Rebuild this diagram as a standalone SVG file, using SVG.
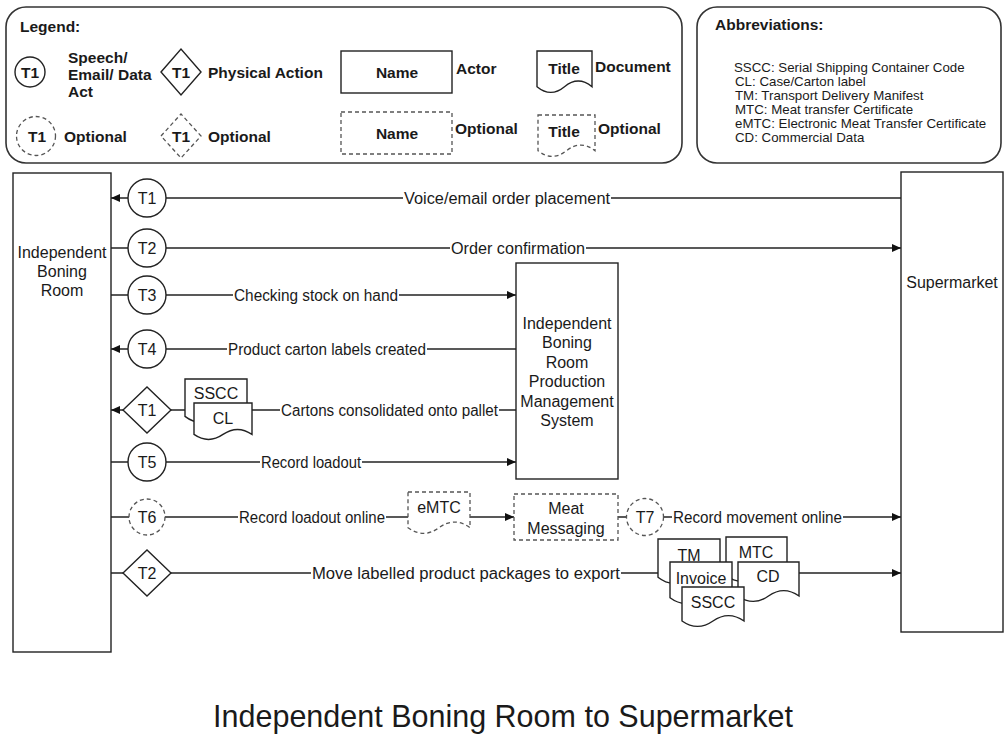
<svg xmlns="http://www.w3.org/2000/svg" width="1006" height="737" viewBox="0 0 1006 737">
  <defs>
    <style>
      text { font-family: "Liberation Sans", Arial, sans-serif; fill: #1a1a1a; }
      .b { font-weight: bold; font-size: 15.5px; }
      .lbl { font-size: 16px; text-anchor: middle; dominant-baseline: central; }
      .nt { font-size: 16px; text-anchor: middle; }
      .mid { text-anchor: middle; }
      .ab { font-size: 13.3px; }
      .shape { fill: #fff; stroke: #222; stroke-width: 1.4; }
      .dash { fill: #fff; stroke: #555; stroke-width: 1.3; stroke-dasharray: 4 3; }
      .panel { fill: #fff; stroke: #333; stroke-width: 1.6; }
      .edge { fill: none; stroke: #222; stroke-width: 1.3; }
      .bg { fill: #fff; }
    </style>
    <marker id="arrow" markerUnits="userSpaceOnUse" markerWidth="9" markerHeight="8" refX="9" refY="4" orient="auto">
      <path d="M0,0 L9,4 L0,8 Z" fill="#111"/>
    </marker>
  </defs>

  <rect width="1006" height="737" fill="#fff"/>

  <!-- Legend panel -->
  <g id="legend">
    <rect class="panel" x="6" y="7" width="676" height="156" rx="20" ry="20"/>
    <text class="b" x="20" y="32">Legend:</text>
    <circle class="shape" cx="30" cy="72" r="15"/>
    <text class="b mid" x="30" y="77.5">T1</text>
    <text class="b" x="68" y="63">Speech/</text>
    <text class="b" x="68" y="80">Email/ Data</text>
    <text class="b" x="68" y="97">Act</text>
    <polygon class="shape" points="161,72 181,49 201,72 181,95"/>
    <text class="b mid" x="181" y="77.5">T1</text>
    <text class="b" x="208" y="78">Physical Action</text>
    <rect class="shape" x="341" y="51" width="111" height="42"/>
    <text class="b mid" x="397" y="78">Name</text>
    <text class="b" x="456" y="74">Actor</text>
    <path class="shape" d="M537,51 H592 V86.7 Q578.25,75.36 564.5,86.7 Q550.75,98.04 537,86.7 Z"/>
    <text class="b mid" x="564" y="74">Title</text>
    <text class="b" x="595" y="72">Document</text>
    <circle class="dash" cx="36" cy="136" r="19.5"/>
    <text class="b mid" x="37" y="141.5">T1</text>
    <text class="b" x="64" y="141.5">Optional</text>
    <polygon class="dash" points="161,136 181,114 201,136 181,158"/>
    <text class="b mid" x="181" y="141.5">T1</text>
    <text class="b" x="208" y="141.5">Optional</text>
    <rect class="dash" x="341" y="112" width="111" height="42"/>
    <text class="b mid" x="397" y="139">Name</text>
    <text class="b" x="455" y="134">Optional</text>
    <path class="dash" d="M538,115 H595 V150.7 Q580.75,139.36 566.5,150.7 Q552.25,162.04 538,150.7 Z"/>
    <text class="b mid" x="564" y="137">Title</text>
    <text class="b" x="598" y="134">Optional</text>
  </g>

  <!-- Abbreviations panel -->
  <g id="abbreviations">
    <rect class="panel" x="697" y="7" width="304" height="156" rx="20" ry="20"/>
    <text class="b" x="715" y="30">Abbreviations:</text>
    <text class="ab" x="734" y="71.5">SSCC: Serial Shipping Container Code</text>
    <text class="ab" x="735" y="85.5">CL: Case/Carton label</text>
    <text class="ab" x="735" y="99.5">TM: Transport Delivery Manifest</text>
    <text class="ab" x="735" y="114">MTC: Meat transfer Certificate</text>
    <text class="ab" x="735" y="128">eMTC: Electronic Meat Transfer Certificate</text>
    <text class="ab" x="735" y="141.5">CD: Commercial Data</text>
  </g>

  <!-- Connectors -->
  <g id="connectors">
    <line class="edge" x1="901" y1="198" x2="111" y2="198" marker-end="url(#arrow)"/>
    <line class="edge" x1="111" y1="248" x2="901" y2="248" marker-end="url(#arrow)"/>
    <line class="edge" x1="111" y1="295" x2="516" y2="295" marker-end="url(#arrow)"/>
    <line class="edge" x1="516" y1="349" x2="111" y2="349" marker-end="url(#arrow)"/>
    <line class="edge" x1="516" y1="410" x2="111" y2="410" marker-end="url(#arrow)"/>
    <line class="edge" x1="111" y1="462" x2="516" y2="462" marker-end="url(#arrow)"/>
    <line class="edge" x1="111" y1="517" x2="408" y2="517"/>
    <line class="edge" x1="470" y1="517" x2="514" y2="517" marker-end="url(#arrow)"/>
    <line class="edge" x1="618" y1="517" x2="901" y2="517" marker-end="url(#arrow)"/>
    <line class="edge" x1="111" y1="573" x2="901" y2="573" marker-end="url(#arrow)"/>

    <rect class="bg" x="403" y="188" width="208" height="20"/>
    <text class="lbl" x="507" y="198" textLength="206" lengthAdjust="spacingAndGlyphs">Voice/email order placement</text>
    <rect class="bg" x="450" y="238" width="136" height="20"/>
    <text class="lbl" x="518" y="248" textLength="134" lengthAdjust="spacingAndGlyphs">Order confirmation</text>
    <rect class="bg" x="233" y="285" width="166" height="20"/>
    <text class="lbl" x="316" y="295" textLength="164" lengthAdjust="spacingAndGlyphs">Checking stock on hand</text>
    <rect class="bg" x="227" y="339" width="200" height="20"/>
    <text class="lbl" x="327" y="349" textLength="198" lengthAdjust="spacingAndGlyphs">Product carton labels created</text>
    <rect class="bg" x="280" y="400" width="219" height="20"/>
    <text class="lbl" x="389.5" y="410" textLength="217" lengthAdjust="spacingAndGlyphs">Cartons consolidated onto pallet</text>
    <rect class="bg" x="260" y="452" width="102" height="20"/>
    <text class="lbl" x="311" y="462" textLength="100" lengthAdjust="spacingAndGlyphs">Record loadout</text>
    <rect class="bg" x="238" y="507" width="148" height="20"/>
    <text class="lbl" x="312" y="517" textLength="146" lengthAdjust="spacingAndGlyphs">Record loadout online</text>
    <rect class="bg" x="672" y="507" width="171" height="20"/>
    <text class="lbl" x="757.5" y="517" textLength="169" lengthAdjust="spacingAndGlyphs">Record movement online</text>
    <rect class="bg" x="311" y="563" width="310" height="20"/>
    <text class="lbl" x="466" y="573" textLength="308" lengthAdjust="spacingAndGlyphs">Move labelled product packages to export</text>
  </g>

  <!-- Actors -->
  <g id="independent-boning-room">
    <rect class="shape" x="13" y="173" width="98" height="479"/>
    <text class="nt" x="62" y="257.5">Independent</text>
    <text class="nt" x="62" y="276.5">Boning</text>
    <text class="nt" x="62" y="295.5">Room</text>
  </g>
  <g id="supermarket">
    <rect class="shape" x="901" y="172" width="102" height="460"/>
    <text class="nt" x="952" y="288">Supermarket</text>
  </g>
  <g id="production-management-system">
    <rect class="shape" x="516" y="263" width="102" height="216"/>
    <text class="nt" x="567" y="328.5">Independent</text>
    <text class="nt" x="567" y="348">Boning</text>
    <text class="nt" x="567" y="367.5">Room</text>
    <text class="nt" x="567" y="387">Production</text>
    <text class="nt" x="567" y="406.5">Management</text>
    <text class="nt" x="567" y="426">System</text>
  </g>
  <g id="meat-messaging">
    <rect class="dash" x="514" y="494" width="104" height="46"/>
    <text class="nt" x="566" y="513.5">Meat</text>
    <text class="nt" x="566" y="533.5">Messaging</text>
  </g>

  <!-- Transactions -->
  <g id="t1-order">
    <circle class="shape" cx="147" cy="198" r="19"/>
    <text class="nt" x="147" y="203.5">T1</text>
  </g>
  <g id="t2-confirm">
    <circle class="shape" cx="147" cy="248" r="19"/>
    <text class="nt" x="147" y="253.5">T2</text>
  </g>
  <g id="t3-stock">
    <circle class="shape" cx="147" cy="295" r="19"/>
    <text class="nt" x="147" y="300.5">T3</text>
  </g>
  <g id="t4-labels">
    <circle class="shape" cx="147" cy="349" r="19"/>
    <text class="nt" x="147" y="354.5">T4</text>
  </g>
  <g id="t1-pallet">
    <polygon class="shape" points="123,410 147,387 171,410 147,433"/>
    <text class="nt" x="147" y="415.5">T1</text>
  </g>
  <g id="doc-sscc-cl">
    <path class="shape" d="M185,379 H247 V416.4 Q231.5,404.5 216,416.4 Q200.5,428.3 185,416.4 Z"/>
    <text class="nt" x="216" y="399">SSCC</text>
    <path class="shape" d="M194,403 H252 V434.45 Q237.5,424.46 223,434.45 Q208.5,444.44 194,434.45 Z"/>
    <text class="nt" x="223" y="424">CL</text>
  </g>
  <g id="t5-loadout">
    <circle class="shape" cx="147" cy="462" r="19"/>
    <text class="nt" x="147" y="467.5">T5</text>
  </g>
  <g id="t6-online">
    <circle class="dash" cx="147" cy="517" r="18"/>
    <text class="nt" x="147" y="522.5">T6</text>
  </g>
  <g id="doc-emtc">
    <path class="dash" d="M408,492 H470 V527.7 Q454.5,516.4 439,527.7 Q423.5,539 408,527.7 Z"/>
    <text class="nt" x="439" y="513">eMTC</text>
  </g>
  <g id="t7-movement">
    <circle class="dash" cx="645" cy="517" r="18.5"/>
    <text class="nt" x="645" y="522.5">T7</text>
  </g>
  <g id="t2-export">
    <polygon class="shape" points="123,573 147,550 171,573 147,596"/>
    <text class="nt" x="147" y="578.5">T2</text>
  </g>
  <g id="doc-export-set">
    <path class="shape" d="M658,539 H720 V577.25 Q704.5,565.1 689,577.25 Q673.5,589.4 658,577.25 Z"/>
    <text class="nt" x="689" y="560.5">TM</text>
    <path class="shape" d="M726,537 H787 V575.25 Q771.75,563.1 756.5,575.25 Q741.25,587.4 726,575.25 Z"/>
    <text class="nt" x="756" y="558">MTC</text>
    <path class="shape" d="M670,562 H732 V597.7 Q716.5,586.36 701,597.7 Q685.5,609.04 670,597.7 Z"/>
    <text class="nt" x="701" y="583.5">Invoice</text>
    <path class="shape" d="M738,562 H799 V596 Q783.75,585.2 768.5,596 Q753.25,606.8 738,596 Z"/>
    <text class="nt" x="768" y="581.5">CD</text>
    <path class="shape" d="M682,587 H744 V621 Q728.5,610.2 713,621 Q697.5,631.8 682,621 Z"/>
    <text class="nt" x="713" y="607.5">SSCC</text>
  </g>

  <text x="503" y="727" font-size="30.5" text-anchor="middle">Independent Boning Room to Supermarket</text>
</svg>
